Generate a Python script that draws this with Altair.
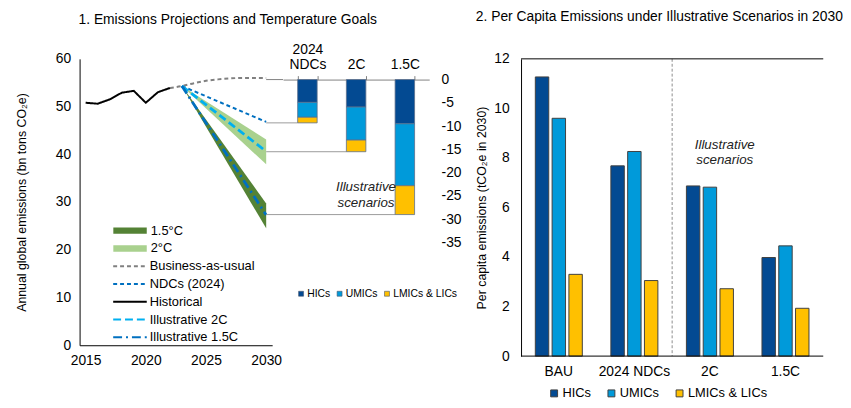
import altair as alt
import pandas as pd

FONT = "Liberation Sans"

# ---------------- Panel 1 data ----------------
hist_years = [2015, 2016, 2017, 2018, 2019, 2020, 2021, 2022]
hist_vals = [50.8, 50.6, 51.5, 52.9, 53.3, 50.8, 53.0, 53.9]
bau_years = [2022, 2023, 2024, 2025, 2026, 2027, 2028, 2029, 2030]
bau_vals = [53.9, 54.3, 54.9, 55.4, 55.7, 55.9, 56.0, 56.0, 56.0]
proj_years = [2023, 2030]
ndc_vals = [54.3, 46.8]
ill2c_vals = [54.3, 40.6]
ill15_vals = [54.3, 27.3]
band2_low = [54.3, 37.9]
band2_high = [54.3, 43.1]
band15_low = [54.3, 24.5]
band15_high = [54.3, 29.7]

band_names = ["1.5°C", "2°C"]
band_colors = ["#548235", "#A9D18E"]
line_names = ["Business-as-usual", "NDCs (2024)", "Historical", "Illustrative 2C", "Illustrative 1.5C"]
line_colors = ["#808080", "#0070C0", "#000000", "#00B0F0", "#0070C0"]
line_dashes = [[4, 3], [4, 3], [1, 0], [8, 4], [9, 4, 2, 4]]

inset_scen = ["2024 NDCs", "2C", "1.5C"]
groups = ["HICs", "UMICs", "LMICs & LICs"]
group_colors = ["#034A92", "#009ADA", "#FFC000"]
inset_hics = [-4.9, -5.9, -9.5]
inset_umics = [-3.2, -7.1, -13.3]
inset_lmics = [-1.2, -2.5, -6.2]

# ---------------- Panel 2 data ----------------
pc_scen = ["BAU", "2024 NDCs", "2C", "1.5C"]
pc_hics = [11.27, 7.68, 6.87, 3.98]
pc_umics = [9.60, 8.26, 6.82, 4.45]
pc_lmics = [3.30, 3.05, 2.72, 1.93]

# ---------------- layout constants ----------------
W1, H1 = 354, 290
X_DOMAIN = [2014.5, 2030.5]
X_RANGE = [0, 195]
INSET_RANGE = [206, 354]
INSET_Y = [-57.06, 4.45]
PX_2030 = X_RANGE[0] + (2030 - X_DOMAIN[0]) / (X_DOMAIN[1] - X_DOMAIN[0]) * (X_RANGE[1] - X_RANGE[0])
W2, H2 = 306, 301

LBL = 14
AXT = 12.5

# ---------------- tables ----------------
def series_rows(name, years, vals):
    return [{"year": y, "value": v, "series": name} for y, v in zip(years, vals)]

bau_df = pd.DataFrame(series_rows("Business-as-usual", bau_years, bau_vals))
thin_df = pd.DataFrame(series_rows("NDCs (2024)", proj_years, ndc_vals)
                       + series_rows("Historical", hist_years, hist_vals))
thick_df = pd.DataFrame(series_rows("Illustrative 2C", proj_years, ill2c_vals)
                        + series_rows("Illustrative 1.5C", proj_years, ill15_vals))
band_df = pd.DataFrame(
    [{"year": y, "low": lo, "high": hi, "band": "2°C"} for y, lo, hi in zip(proj_years, band2_low, band2_high)]
    + [{"year": y, "low": lo, "high": hi, "band": "1.5°C"} for y, lo, hi in zip(proj_years, band15_low, band15_high)]
)

inset_rows = []
for i, s in enumerate(inset_scen):
    for j, (g, arr) in enumerate(zip(groups, [inset_hics, inset_umics, inset_lmics])):
        inset_rows.append({"scenario": s, "region": g, "value": arr[i], "ord": j})
inset_df = pd.DataFrame(inset_rows)
conn_df = pd.DataFrame({"scenario": inset_scen,
                        "total": [a + b + c for a, b, c in zip(inset_hics, inset_umics, inset_lmics)]})

pc_rows = []
for i, s in enumerate(pc_scen):
    for g, arr in zip(groups, [pc_hics, pc_umics, pc_lmics]):
        pc_rows.append({"scenario": s, "region": g, "value": arr[i]})
pc_df = pd.DataFrame(pc_rows)

# ---------------- panel 1 ----------------
xscale = alt.Scale(domain=X_DOMAIN, range=X_RANGE, nice=False, zero=False)
yscale = alt.Scale(domain=[0, 60], nice=False)

x_axis = alt.Axis(values=[2015, 2020, 2025, 2030], format="d", title=None, ticks=False,
                  labelPadding=9, labelFontSize=LBL, labelColor="#000", domainColor="#000",
                  grid=False, orient="bottom")
y_axis = alt.Axis(values=[0, 10, 20, 30, 40, 50, 60], title="Annual global emissions (bn tons CO₂e)",
                  ticks=False, labelPadding=9, labelFontSize=LBL, labelColor="#000",
                  domainColor="#000", grid=False, titleFontSize=AXT, titleFontWeight="normal",
                  titleColor="#000", titlePadding=27, orient="left")

band_legend = alt.Legend(
    title=None, orient="none", legendX=34, legendY=167,
    symbolType="M-1,-0.19H1V0.19H-1Z", symbolSize=1156, symbolStrokeWidth=0,
    labelFontSize=13, labelColor="#000", clipHeight=14, rowPadding=4, labelOffset=4,
)
line_legend = alt.Legend(
    title=None, orient="none", legendX=33, legendY=203,
    symbolType="stroke", symbolSize=1156, symbolStrokeWidth=2,
    labelFontSize=13, labelColor="#000", clipHeight=14, rowPadding=4, labelOffset=2,
)
color_enc = alt.Color("series:N", scale=alt.Scale(domain=line_names, range=line_colors),
                      legend=line_legend)
dash_enc = alt.StrokeDash("series:N", scale=alt.Scale(domain=line_names, range=line_dashes),
                          legend=line_legend)

bands = alt.Chart(band_df).mark_area(opacity=1).encode(
    x=alt.X("year:Q", scale=xscale, axis=x_axis),
    y=alt.Y("low:Q", scale=yscale, axis=y_axis),
    y2="high:Q",
    fill=alt.Fill("band:N", scale=alt.Scale(domain=band_names, range=band_colors), legend=band_legend),
)
bau = alt.Chart(bau_df).mark_line(strokeWidth=2, interpolate="monotone").encode(
    x=alt.X("year:Q", scale=xscale, axis=x_axis),
    y=alt.Y("value:Q", scale=yscale, axis=y_axis),
    color=color_enc, strokeDash=dash_enc,
)
thin = alt.Chart(thin_df).mark_line(strokeWidth=2).encode(
    x=alt.X("year:Q", scale=xscale, axis=x_axis),
    y=alt.Y("value:Q", scale=yscale, axis=y_axis),
    color=color_enc, strokeDash=dash_enc,
)
thick = alt.Chart(thick_df).mark_line(strokeWidth=2.8).encode(
    x=alt.X("year:Q", scale=xscale, axis=x_axis),
    y=alt.Y("value:Q", scale=yscale, axis=y_axis),
    color=color_enc, strokeDash=dash_enc,
)
lines_layer = alt.layer(bands, bau, thin, thick)

inset_xscale = alt.Scale(domain=inset_scen, range=INSET_RANGE, paddingInner=0.6, paddingOuter=0.3)
inset_yscale = alt.Scale(domain=INSET_Y, nice=False, zero=False)
inset_x_axis = alt.Axis(orient="top", offset=-21, tickBand="extent", labelAngle=0, title=None,
                        domainColor="#808080", tickColor="#808080", tickSize=4, labelPadding=19,
                        labelFontSize=LBL, labelLineHeight=15, labelColor="#000", grid=False,
                        labelExpr="datum.label == '2024 NDCs' ? ['2024', 'NDCs'] : ['', datum.label]")
inset_y_axis = alt.Axis(orient="right", values=[0, -5, -10, -15, -20, -25, -30, -35], title=None,
                        domain=False, ticks=False, grid=False, labelPadding=12, labelFontSize=LBL,
                        labelColor="#000", labelAlign="left", labelExpr="'' + datum.value")
inset_legend = alt.Legend(title=None, orient="none", legendX=219, legendY=232.5, direction="horizontal",
                          symbolType="square", symbolSize=25, symbolStrokeColor="#44546A",
                          symbolStrokeWidth=0.6, labelFontSize=10.5, labelColor="#000",
                          labelOffset=1, columnPadding=4)

inset_bars = alt.Chart(inset_df).mark_bar(stroke="#5B6F8C", strokeWidth=0.8).encode(
    x=alt.X("scenario:N", sort=inset_scen, scale=inset_xscale, axis=inset_x_axis),
    y=alt.Y("value:Q", stack="zero", scale=inset_yscale, axis=inset_y_axis),
    fill=alt.Fill("region:N", scale=alt.Scale(domain=groups, range=group_colors), legend=inset_legend),
    order=alt.Order("ord:Q"),
)
connectors = alt.Chart(conn_df).mark_rule(color="#9A9A9A", strokeWidth=1).encode(
    x=alt.X("scenario:N", sort=inset_scen, scale=inset_xscale, axis=inset_x_axis, bandPosition=0),
    x2=alt.value(PX_2030),
    y=alt.Y("total:Q", scale=inset_yscale, axis=inset_y_axis),
)
bau_conn = alt.Chart(pd.DataFrame({"v": [0]})).mark_rule(color="#808080", strokeWidth=1).encode(
    x=alt.value(PX_2030), x2=alt.value(INSET_RANGE[0]),
    y=alt.Y("v:Q", scale=inset_yscale, axis=inset_y_axis),
)
inset_note = alt.Chart(pd.DataFrame({"scenario": ["2C"], "v": [-23.1]})).mark_text(
    text=["Illustrative", "scenarios"], fontStyle="italic", fontSize=13.5, lineHeight=16.5,
    align="center", baseline="middle", dx=10, color="#222",
).encode(
    x=alt.X("scenario:N", sort=inset_scen, scale=inset_xscale, axis=inset_x_axis),
    y=alt.Y("v:Q", scale=inset_yscale, axis=inset_y_axis),
)
inset_layer = alt.layer(connectors, bau_conn, inset_bars, inset_note)

left = alt.layer(lines_layer, inset_layer).resolve_scale(
    x="independent", y="independent", fill="independent"
).properties(
    width=W1, height=H1,
    title=alt.Title("1. Emissions Projections and Temperature Goals", fontSize=14,
                    fontWeight="normal", color="#000", offset=16, anchor="middle", dx=-27),
)

# ---------------- panel 2 ----------------
pc_xscale = alt.Scale(domain=pc_scen, paddingInner=0, paddingOuter=0)
pc_x = alt.X("scenario:N", sort=pc_scen, scale=pc_xscale,
             axis=alt.Axis(title=None, labelAngle=0, ticks=False, domain=False, labelPadding=9,
                           labelFontSize=LBL, labelColor="#000", grid=False))
pc_y_axis = alt.Axis(values=[0, 2, 4, 6, 8, 10, 12], title="Per capita emissions (tCO₂e in 2030)",
                     ticks=False, labelPadding=12, labelFontSize=LBL, labelColor="#000",
                     domainColor="#000", grid=False, titleFontSize=AXT, titleFontWeight="normal",
                     titleColor="#000", titlePadding=5.5)
pc_yscale = alt.Scale(domain=[0, 12], nice=False)
pc_legend = alt.Legend(title=None, orient="none", legendX=27, legendY=332, direction="horizontal",
                       symbolType="square", symbolSize=49, symbolStrokeColor="#404040",
                       symbolStrokeWidth=1, labelFontSize=13, labelColor="#000",
                       labelOffset=2, columnPadding=14)

pc_bars = alt.Chart(pc_df).mark_bar(stroke="#404040", strokeWidth=1).encode(
    x=pc_x,
    xOffset=alt.XOffset("region:N", sort=groups,
                        scale=alt.Scale(domain=groups, paddingInner=0.2, paddingOuter=0.85)),
    y=alt.Y("value:Q", scale=pc_yscale, axis=pc_y_axis),
    fill=alt.Fill("region:N", scale=alt.Scale(domain=groups, range=group_colors), legend=pc_legend),
)
sep = alt.Chart(pd.DataFrame({"scenario": ["2C"]})).mark_rule(
    color="#8C8C8C", strokeDash=[3, 2], strokeWidth=1
).encode(x=alt.X("scenario:N", sort=pc_scen, scale=pc_xscale, bandPosition=0))
frame = alt.Chart(pd.DataFrame({"v": [0, 12]})).mark_rule(color="#000", strokeWidth=1).encode(
    x=alt.value(0), x2=alt.value(W2),
    y=alt.Y("v:Q", scale=pc_yscale, axis=pc_y_axis),
)
pc_note = alt.Chart(pd.DataFrame({"scenario": ["2C"], "v": [8.5]})).mark_text(
    text=["Illustrative", "scenarios"], fontStyle="italic", fontSize=13.5, lineHeight=15,
    align="center", baseline="middle", dx=15, color="#222",
).encode(x=alt.X("scenario:N", sort=pc_scen, scale=pc_xscale),
         y=alt.Y("v:Q", scale=pc_yscale, axis=pc_y_axis))

right = alt.layer(pc_bars, sep, frame, pc_note).properties(
    width=W2, height=H2,
    title=alt.Title("2. Per Capita Emissions under Illustrative Scenarios in 2030", fontSize=14,
                    fontWeight="normal", color="#000", offset=28, anchor="middle", dx=-13),
)

chart = alt.hconcat(left, right, spacing=13).resolve_scale(
    fill="independent", color="independent", strokeDash="independent"
).resolve_legend(fill="independent").configure(
    font=FONT, padding={"left": 7.5, "top": 0, "right": 0, "bottom": 0}
).configure_view(stroke=None)

chart.save("out.html", embed_options={"renderer": "svg", "actions": False})
